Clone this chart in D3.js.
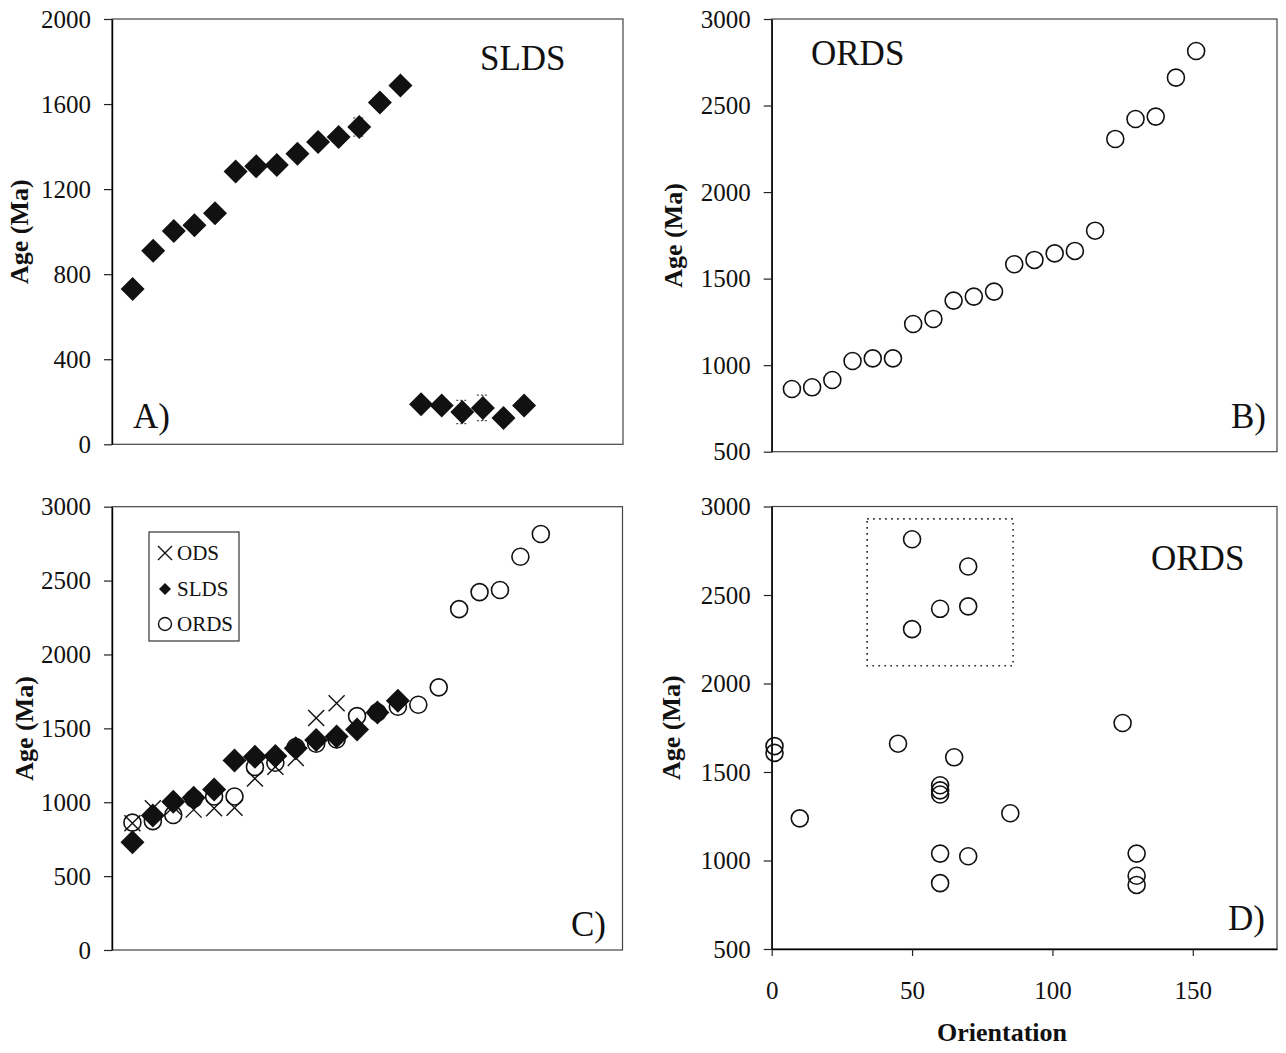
<!DOCTYPE html>
<html>
<head>
<meta charset="utf-8">
<script src="https://cdn.jsdelivr.net/npm/d3@7/dist/d3.min.js"></script>
<style>
  html, body { margin: 0; padding: 0; background: #fff; }
  svg { display: block; }
  text { font-family: "Liberation Serif", "Times New Roman", serif; fill: #111; }
</style>
</head>
<body>
<svg id="chart" width="1286" height="1053"></svg>
<script>
// ---------------- DATA ----------------
// Panel A: SLDS ages (Ma), sample order 1..20
const sldsIndex = d3.range(1, 21);
const sldsAge = [730, 910, 1003, 1030, 1087, 1283, 1307, 1313, 1366, 1422, 1445, 1492, 1607, 1687, 188, 183, 152, 171, 124, 183];
const sldsErr = [0, 0, 0, 0, 0, 0, 0, 0, 0, 0, 0, 43, 0, 0, 0, 0, 55, 60, 0, 0];

// Panel B / C / D: ORDS ages (Ma), sample order 1..21
const ordsIndex = d3.range(1, 22);
const ordsAge = [862, 872, 914, 1024, 1039, 1039, 1238, 1267, 1373, 1396, 1425, 1583, 1608, 1646, 1660, 1777, 2307, 2422, 2436, 2661, 2815];
// Panel D: orientation of each ORDS sample
const ordsOrientation = [130, 60, 130, 70, 60, 130, 10, 85, 60, 60, 60, 65, 1, 1, 45, 125, 50, 60, 70, 70, 50];

// Panel C: ODS ages (Ma), sample order 1..11
const odsIndex = d3.range(1, 12);
const odsAge = [857, 960, 970, 950, 960, 962, 1160, 1240, 1300, 1570, 1670];

// Tick labels
const ticksA = [0, 400, 800, 1200, 1600, 2000];
const ticksB = [500, 1000, 1500, 2000, 2500, 3000];
const ticksC = [0, 500, 1000, 1500, 2000, 2500, 3000];
const ticksD = [500, 1000, 1500, 2000, 2500, 3000];
const ticksDx = [0, 50, 100, 150];

// Dotted box in D (orientation / age bounds)
const boxOrient = [34, 86];
const boxAge = [2100, 2930];

const legendItems = ["ODS", "SLDS", "ORDS"];

// ---------------- DRAWING ----------------
const svg = d3.select("#chart");

const diamond = s => `M0,${-s}L${s},0L0,${s}L${-s},0Z`;
const cross = s => `M${-s},${-s}L${s},${s}M${-s},${s}L${s},${-s}`;

function panel(opt) {
  const g = svg.append("g");
  const x = d3.scaleLinear().domain(opt.xd).range([opt.l, opt.r]);
  const y = d3.scaleLinear().domain(opt.yd).range([opt.b, opt.t]);
  // frame
  g.append("rect").attr("x", opt.l).attr("y", opt.t)
    .attr("width", opt.r - opt.l).attr("height", opt.b - opt.t)
    .attr("fill", "none").attr("stroke", "#444").attr("stroke-width", 1.2);
  // y axis
  const ya = g.append("g").attr("transform", `translate(${opt.l},0)`)
    .call(d3.axisLeft(y).tickValues(opt.yt).tickSize(8).tickSizeOuter(0).tickPadding(13).tickFormat(d3.format("d")));
  ya.select(".domain").attr("stroke", "#000").attr("stroke-width", 1.4);
  ya.selectAll(".tick line").attr("stroke", "#222").attr("stroke-width", 1.2);
  ya.selectAll(".tick text").style("font-family", "Liberation Serif").style("font-size", "25px").attr("fill", "#222");
  // y label
  g.append("text")
    .attr("transform", `translate(${opt.ylx},${(opt.t + opt.b) / 2}) rotate(-90)`)
    .attr("text-anchor", "middle").attr("dy", "0.33em")
    .style("font-size", "26px").style("font-weight", "bold")
    .text("Age (Ma)");
  return {g, x, y};
}

// Panel A
{
  const {g, x, y} = panel({l: 112, r: 623, t: 19, b: 444.3, xd: [0, 24.8], yd: [0, 2000], yt: ticksA, ylx: 19});
  const pts = sldsIndex.map((d, i) => ({x: d, y: sldsAge[i], e: sldsErr[i]}));
  const eb = g.append("g").attr("stroke", "#555").attr("stroke-width", 1.2).attr("stroke-dasharray", "2,2");
  pts.filter(p => p.e > 0).forEach(p => {
    eb.append("line").attr("x1", x(p.x)).attr("x2", x(p.x)).attr("y1", y(p.y - p.e)).attr("y2", y(p.y + p.e));
    [p.y - p.e, p.y + p.e].forEach(v => {
      eb.append("line").attr("x1", x(p.x) - 6).attr("x2", x(p.x) + 6).attr("y1", y(v)).attr("y2", y(v));
    });
  });
  g.selectAll("path.d").data(pts).enter().append("path")
    .attr("transform", p => `translate(${x(p.x)},${y(p.y)})`)
    .attr("d", diamond(12)).attr("fill", "#111");
  g.append("text").attr("x", 480).attr("y", 70).style("font-size", "35px").text("SLDS");
  g.append("text").attr("x", 133).attr("y", 428).style("font-size", "35px").text("A)");
}

// Panel B
{
  const {g, x, y} = panel({l: 771.7, r: 1277, t: 19, b: 451.7, xd: [0, 25], yd: [500, 3000], yt: ticksB, ylx: 673});
  g.selectAll("circle").data(ordsIndex).enter().append("circle")
    .attr("cx", d => x(d)).attr("cy", (d, i) => y(ordsAge[i])).attr("r", 8.5)
    .attr("fill", "none").attr("stroke", "#111").attr("stroke-width", 1.6);
  g.append("text").attr("x", 811).attr("y", 65).style("font-size", "35px").text("ORDS");
  g.append("text").attr("x", 1231).attr("y", 428).style("font-size", "35px").text("B)");
}

// Panel C
{
  const {g, x, y} = panel({l: 112, r: 622.5, t: 506.7, b: 950, xd: [0, 25], yd: [0, 3000], yt: ticksC, ylx: 24});
  g.selectAll("path.x").data(odsIndex).enter().append("path")
    .attr("transform", (d, i) => `translate(${x(d)},${y(odsAge[i])})`)
    .attr("d", cross(8)).attr("stroke", "#111").attr("stroke-width", 1.4).attr("fill", "none");
  g.selectAll("path.d").data(sldsIndex.slice(0, 14)).enter().append("path")
    .attr("transform", (d, i) => `translate(${x(d)},${y(sldsAge[i])})`)
    .attr("d", diamond(12)).attr("fill", "#111");
  g.selectAll("circle").data(ordsIndex).enter().append("circle")
    .attr("cx", d => x(d)).attr("cy", (d, i) => y(ordsAge[i])).attr("r", 8.5)
    .attr("fill", "none").attr("stroke", "#111").attr("stroke-width", 1.6);
  g.append("text").attr("x", 571).attr("y", 936).style("font-size", "35px").text("C)");
  // legend
  const lg = g.append("g");
  lg.append("rect").attr("x", 149).attr("y", 532).attr("width", 90).attr("height", 109)
    .attr("fill", "#fff").attr("stroke", "#333").attr("stroke-width", 1.2);
  const ly = [553, 589, 624];
  legendItems.forEach((name, i) => {
    const cx = 165, cy = ly[i];
    if (i === 0) lg.append("path").attr("transform", `translate(${cx},${cy})`).attr("d", cross(7)).attr("stroke", "#111").attr("stroke-width", 1.4);
    if (i === 1) lg.append("path").attr("transform", `translate(${cx},${cy})`).attr("d", diamond(6)).attr("fill", "#111");
    if (i === 2) lg.append("circle").attr("cx", cx).attr("cy", cy).attr("r", 6.5).attr("fill", "none").attr("stroke", "#111").attr("stroke-width", 1.4);
    lg.append("text").attr("x", 177).attr("y", cy).attr("dy", "0.35em").style("font-size", "21px").text(name);
  });
}

// Panel D
{
  const {g, x, y} = panel({l: 771.7, r: 1277, t: 506.5, b: 949, xd: [0, 180], yd: [500, 3000], yt: ticksD, ylx: 671});
  const xa = g.append("g").attr("transform", "translate(0,949)")
    .call(d3.axisBottom(x).tickValues(ticksDx).tickSize(7).tickSizeOuter(0).tickPadding(25).tickFormat(d3.format("d")));
  xa.select(".domain").attr("stroke", "#000").attr("stroke-width", 1.4);
  xa.selectAll(".tick line").attr("stroke", "#222").attr("stroke-width", 1.2);
  xa.selectAll(".tick text").style("font-family", "Liberation Serif").style("font-size", "25px").attr("fill", "#222");
  g.append("rect").attr("x", x(boxOrient[0])).attr("y", y(boxAge[1]))
    .attr("width", x(boxOrient[1]) - x(boxOrient[0])).attr("height", y(boxAge[0]) - y(boxAge[1]))
    .attr("fill", "none").attr("stroke", "#222").attr("stroke-width", 1.6).attr("stroke-dasharray", "1.6,4.4");
  g.selectAll("circle").data(ordsOrientation).enter().append("circle")
    .attr("cx", d => x(d)).attr("cy", (d, i) => y(ordsAge[i])).attr("r", 8.5)
    .attr("fill", "none").attr("stroke", "#111").attr("stroke-width", 1.6);
  g.append("text").attr("x", 1151).attr("y", 570).style("font-size", "35px").text("ORDS");
  g.append("text").attr("x", 1228).attr("y", 930).style("font-size", "35px").text("D)");
  g.append("text").attr("x", 1002).attr("y", 1041).attr("text-anchor", "middle")
    .style("font-size", "26px").style("font-weight", "bold").text("Orientation");
}
</script>
</body>
</html>
